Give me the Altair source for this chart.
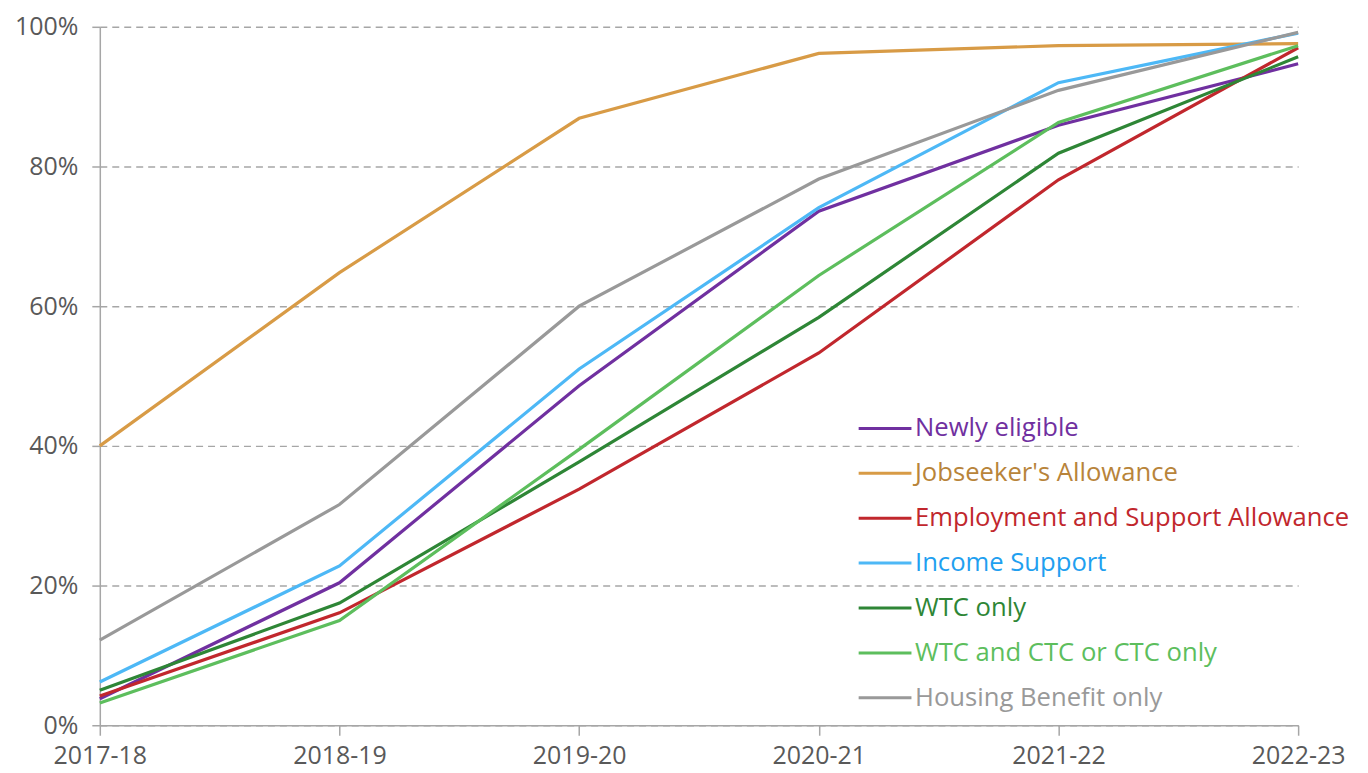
import altair as alt
import pandas as pd

years = ["2017-18", "2018-19", "2019-20", "2020-21", "2021-22", "2022-23"]
series_names = [
    "Newly eligible",
    "Jobseeker's Allowance",
    "Employment and Support Allowance",
    "Income Support",
    "WTC only",
    "WTC and CTC or CTC only",
    "Housing Benefit only",
]
newly_eligible = [3.8, 20.4, 48.6, 73.6, 85.9, 94.7]
jobseekers = [40.0, 64.8, 86.9, 96.2, 97.3, 97.6]
esa = [4.2, 16.1, 33.8, 53.3, 78.1, 97.0]
income_support = [6.2, 22.8, 51.0, 74.1, 92.0, 99.1]
wtc_only = [5.0, 17.5, 37.7, 58.4, 81.9, 95.7]
wtc_ctc = [3.2, 15.0, 39.5, 64.4, 86.3, 97.3]
housing_benefit = [12.2, 31.6, 60.0, 78.2, 90.9, 99.2]

line_colors = ["#7030A0", "#D89B46", "#C1272D", "#4DB8F6", "#2E8636", "#5DBE5D", "#999999"]
text_colors = ["#7030A0", "#B8843A", "#C1272D", "#1FA0F0", "#2E8636", "#5DBE5D", "#999999"]

all_series = [newly_eligible, jobseekers, esa, income_support, wtc_only, wtc_ctc, housing_benefit]
rows = []
for name, vals in zip(series_names, all_series):
    for y, v in zip(years, vals):
        rows.append({"year": y, "series": name, "value": v / 100.0})
df = pd.DataFrame(rows)

label_color_expr = ""
for name, c in zip(series_names, text_colors):
    esc = name.replace("'", "\\'")
    label_color_expr += f"datum.value === '{esc}' ? '{c}' : "
label_color_expr += "'#595959'"

FONT = "Open Sans"

chart = (
    alt.Chart(df)
    .mark_line(strokeWidth=3.2)
    .encode(
        x=alt.X(
            "year:N",
            sort=years,
            scale=alt.Scale(type="point", padding=0),
            axis=alt.Axis(
                title=None,
                labelAngle=0,
                labelFontSize=25,
                labelColor="#595959",
                labelFont=FONT,
                labelPadding=8,
                tickSize=10,
                tickColor="#A6A6A6",
                tickWidth=1.5,
                domainColor="#A6A6A6",
                domainWidth=1.5,
                grid=False,
            ),
        ),
        y=alt.Y(
            "value:Q",
            scale=alt.Scale(domain=[0, 1], nice=False),
            axis=alt.Axis(
                title=None,
                format=".0%",
                values=[0, 0.2, 0.4, 0.6, 0.8, 1.0],
                labelFontSize=25,
                labelColor="#595959",
                labelFont=FONT,
                labelPadding=14,
                tickSize=8,
                tickColor="#A6A6A6",
                tickWidth=1.5,
                domainColor="#A6A6A6",
                domainWidth=1.5,
                grid=True,
                gridColor="#A6A6A6",
                gridDash=[7, 5],
                gridWidth=1.5,
            ),
        ),
        color=alt.Color(
            "series:N",
            scale=alt.Scale(domain=series_names, range=line_colors),
            sort=series_names,
            legend=alt.Legend(
                title=None,
                orient="none",
                legendX=759,
                legendY=380,
                symbolType="stroke",
                symbolSize=2800,
                symbolStrokeWidth=3,
                labelFontSize=25.7,
                labelFont=FONT,
                labelColor=alt.ExprRef(label_color_expr),
                labelOffset=2,
                clipHeight=45,
                rowPadding=0,
                padding=0,
                labelLimit=600,
            ),
        ),
    )
    .properties(
        width=1201,
        height=700,
        padding={"left": 92, "top": 18, "right": 62, "bottom": 45},
        autosize=alt.AutoSizeParams(type="none"),
    )
    .configure_view(stroke=None)
)

chart.save("out.html", embed_options={"renderer": "svg", "actions": False})
